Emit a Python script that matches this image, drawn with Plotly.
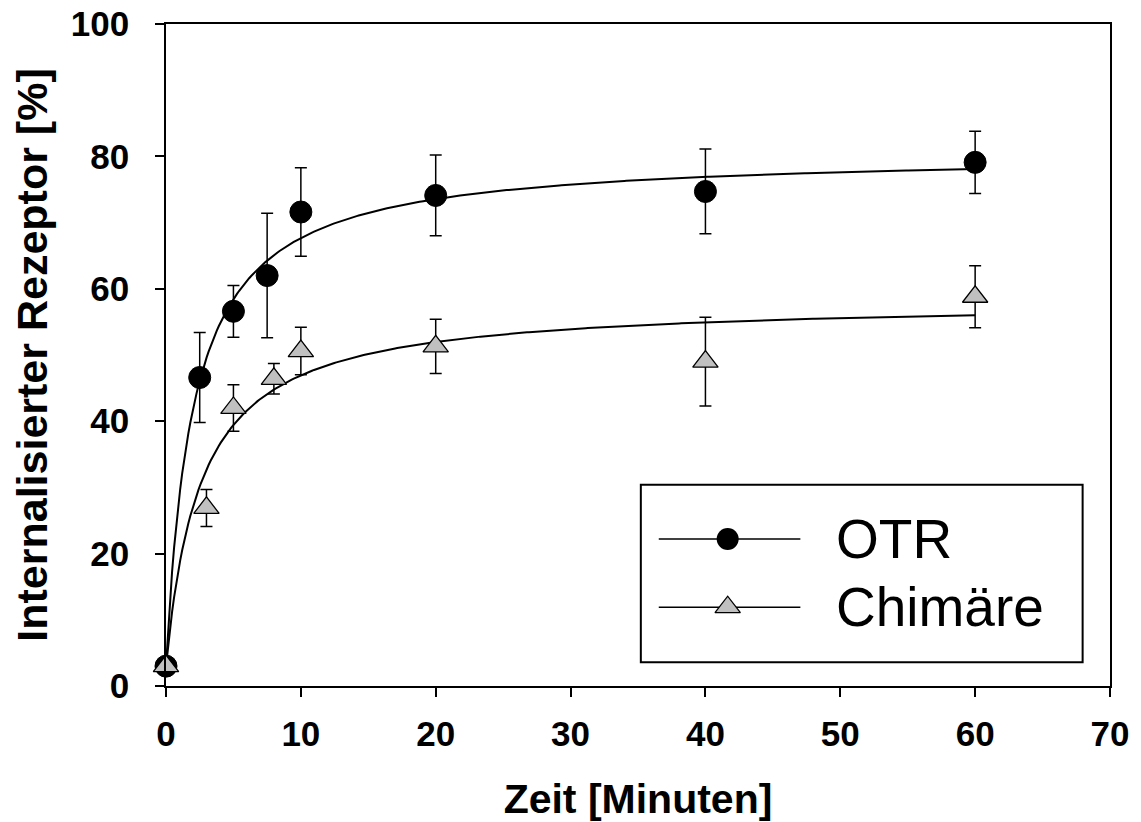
import numpy as np
import plotly.graph_objects as go

# ---------------- data ----------------
time_otr = [0, 2.5, 5, 7.5, 10, 20, 40, 60]
otr_mean = [3.0, 46.6, 56.6, 62.0, 71.6, 74.1, 74.7, 79.1]
otr_err = [0.0, 6.8, 3.9, 9.4, 6.7, 6.1, 6.4, 4.7]

time_chim = [0, 3, 5, 8, 10, 20, 40, 60]
chim_mean = [3.0, 26.9, 42.0, 46.4, 50.6, 51.3, 49.0, 58.8]
chim_err = [0.0, 2.8, 3.5, 2.3, 3.6, 4.1, 6.7, 4.7]

# hyperbolic fit parameters (y = y0 + Bmax*x/(K + x))
otr_fit = {"y0": 3.0, "bmax": 77.6, "k": 2.0}
chim_fit = {"y0": 3.0, "bmax": 55.3, "k": 2.59}

x_ticks = [0, 10, 20, 30, 40, 50, 60, 70]
y_ticks = [0, 20, 40, 60, 80, 100]
series_names = ["OTR", "Chimäre"]

x_title = "Zeit [Minuten]"
y_title = "Internalisierter Rezeptor [%]"

# ---------------- figure ----------------
FONT = "Liberation Sans, Arial, Helvetica, sans-serif"
CHIM_FILL = "#c0c0c0"
PAGE_OFFSET = 8   # default body margin of the html page


def fit_curve(p, xmax):
    xs = np.linspace(0, xmax, 400)
    return xs, p["y0"] + p["bmax"] * xs / (p["k"] + xs)


fig = go.Figure()

for p, t in ((otr_fit, time_otr), (chim_fit, time_chim)):
    xs, ys = fit_curve(p, max(t))
    fig.add_trace(go.Scatter(x=xs, y=ys, mode="lines",
                             line=dict(color="black", width=2),
                             hoverinfo="skip", showlegend=False))

fig.add_trace(go.Scatter(
    x=time_otr, y=otr_mean, mode="markers", name=series_names[0],
    marker=dict(symbol="circle", size=22, color="black",
                line=dict(color="black", width=1)),
    error_y=dict(type="data", array=otr_err, color="black",
                 thickness=1.5, width=6),
    cliponaxis=False, showlegend=False))

fig.add_trace(go.Scatter(
    x=time_chim, y=chim_mean, mode="markers", name=series_names[1],
    marker=dict(symbol="triangle-up", size=22, color=CHIM_FILL,
                line=dict(color="black", width=1.3)),
    error_y=dict(type="data", array=chim_err, color="black",
                 thickness=1.5, width=6),
    cliponaxis=False, showlegend=False))

# ---------------- hand-drawn legend (long line samples as in the original) --------
LEG = dict(x0=0.503, x1=0.971, y0=0.036, y1=0.304)   # box in plot fractions
LINE_X = (0.522, 0.672)
MARK_X = 0.595
ROWS_Y = [0.222, 0.119]
TEXT_X = 0.708

fig.add_shape(type="rect", xref="x domain", yref="y domain",
              x0=LEG["x0"], x1=LEG["x1"], y0=LEG["y0"], y1=LEG["y1"],
              line=dict(color="black", width=2), fillcolor="rgba(0,0,0,0)",
              layer="above")
for ry in ROWS_Y:
    fig.add_shape(type="line", xref="x domain", yref="y domain",
                  x0=LINE_X[0], x1=LINE_X[1], y0=ry, y1=ry,
                  line=dict(color="black", width=1.5), layer="below")

# legend glyphs on an invisible overlay axis spanning the plot area
fig.add_trace(go.Scatter(
    x=[MARK_X], y=[ROWS_Y[0]], xaxis="x2", yaxis="y2", mode="markers",
    marker=dict(symbol="circle", size=22, color="black"),
    hoverinfo="skip", showlegend=False, cliponaxis=False))
fig.add_trace(go.Scatter(
    x=[MARK_X], y=[ROWS_Y[1]], xaxis="x2", yaxis="y2", mode="markers",
    marker=dict(symbol="triangle-up", size=22, color=CHIM_FILL,
                line=dict(color="black", width=1.3)),
    hoverinfo="skip", showlegend=False, cliponaxis=False))

for name, ry in zip(series_names, ROWS_Y):
    fig.add_annotation(xref="x domain", yref="y domain", x=TEXT_X, y=ry,
                       text=name, showarrow=False, xanchor="left", yanchor="middle",
                       font=dict(family=FONT, size=55, color="black"))

axis_common = dict(
    showgrid=False, zeroline=False, showline=True, linecolor="black",
    linewidth=1.5, mirror=True, ticks="outside", ticklen=9, tickwidth=1.5,
    tickcolor="black", ticklabeloverflow="allow",
    tickfont=dict(family=FONT, size=35, color="black", weight="bold"),
)

fig.update_layout(
    width=1141 - PAGE_OFFSET, height=822 - PAGE_OFFSET,
    margin=dict(l=166 - PAGE_OFFSET, r=31, t=24 - PAGE_OFFSET, b=136,
                autoexpand=False),
    paper_bgcolor="white", plot_bgcolor="white",
    showlegend=False,
    xaxis=dict(range=[0, 70], tickvals=x_ticks, ticktext=[str(v) for v in x_ticks],
               title=dict(text=x_title, standoff=33,
                          font=dict(family=FONT, size=41, color="black", weight="bold")),
               ticklabelstandoff=7,
               **axis_common),
    yaxis=dict(range=[0, 100], tickvals=y_ticks, ticktext=[str(v) for v in y_ticks],
               title=dict(text=y_title, standoff=11,
                          font=dict(family=FONT, size=43, color="black", weight="bold")),
               ticklabelstandoff=19,
               **axis_common),
    xaxis2=dict(range=[0, 1], overlaying="x", visible=False, fixedrange=True),
    yaxis2=dict(range=[0, 1], overlaying="y", visible=False, fixedrange=True),
)

fig.write_html("out.html")
